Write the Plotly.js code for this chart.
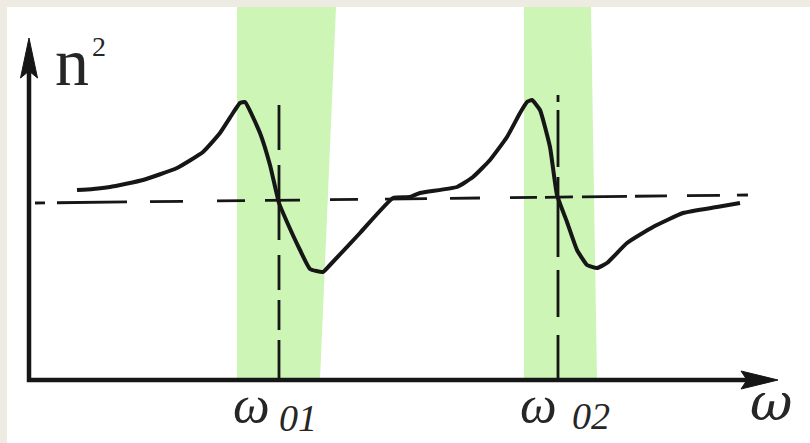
<!DOCTYPE html>
<html>
<head>
<meta charset="utf-8">
<script src="https://cdn.plot.ly/plotly-3.0.1.min.js"></script>
<style>html,body{margin:0;padding:0;background:#eeece2;}#chart{width:810px;height:443px;}</style>
</head>
<body>
<div id="chart"></div>
<script>
// Dispersion curve n^2(ω) (arbitrary units)
const omega = [0.48,0.64,0.81,1.14,1.48,1.74,1.91,2.04,2.11,2.16,2.31,2.41,2.50,2.58,2.71,2.81,2.94,3.01,3.31,3.64,3.81,3.91,4.28,4.44,4.61,4.78,4.91,4.98,5.03,5.11,5.21,5.28,5.38,5.48,5.58,5.68,5.78,5.98,6.24,6.54,6.88,7.11];
const n2 = [1.90,1.91,1.93,2.00,2.12,2.28,2.47,2.67,2.77,2.78,2.47,2.15,1.77,1.58,1.30,1.11,1.08,1.15,1.47,1.82,1.83,1.87,1.93,2.03,2.20,2.43,2.67,2.78,2.80,2.70,2.33,1.85,1.58,1.30,1.15,1.12,1.17,1.37,1.53,1.67,1.73,1.77];

// resonance frequencies
const resonances = [2.50, 5.29];
const resonanceTop = [2.75, 2.85];
// absorption bands: [left, right at top, right at bottom]
const band1 = {left: 2.08, rightTop: 3.07, rightBottom: 2.91};
const band2 = {left: 4.95, rightTop: 5.62, rightBottom: 5.68};
// reference level n^2 (dashed) start/end
const refX = [0.06, 7.19];
const refY = [1.77, 1.85];
// axes extent
const xAxisEnd = 7.49;
const yAxisEnd = 3.42;
const xRange = [-0.22, 7.81];
const yRange = [-0.63, 3.73];

const ink = '#161616';
const green = '#ccf5b6';

function bandTrace(b) {
  return {x: [b.left, b.rightTop, b.rightBottom, b.left, b.left],
          y: [yRange[1], yRange[1], 0, 0, yRange[1]],
          mode: 'lines', fill: 'toself', fillcolor: green,
          line: {width: 0, color: green}, hoverinfo: 'skip'};
}

const traces = [
  bandTrace(band1),
  bandTrace(band2),
  // horizontal dashed reference
  {x: refX, y: refY, mode: 'lines',
   line: {color: ink, width: 2.8, dash: '10px,12px,70px,23px,33px,34px,28px,20px,35px,30px,28px,27px,42px,23px,30px,30px,27px,8px,28px,9px,45px,8px,32px,20px,33px,17px,11px,100px'}},
  // vertical dashed lines
  {x: [resonances[0], resonances[0]], y: [resonanceTop[0], 0], mode: 'lines',
   line: {color: ink, width: 2.8, dash: '45px,15px,75px,15px,35px,10px,30px,10px,38px,10px'}},
  {x: [resonances[1], resonances[1]], y: [resonanceTop[1], 0], mode: 'lines',
   line: {color: ink, width: 2.8, dash: '7px,8px,57px,10px,80px,13px,47px,18px,45px,10px'}},
  // curve
  {x: omega, y: n2, mode: 'lines',
   line: {color: ink, width: 4, shape: 'spline', smoothing: 0.4}},
  // axes
  {x: [0, 0, xAxisEnd - 0.1], y: [yAxisEnd - 0.15, 0, 0], mode: 'lines',
   line: {color: ink, width: 4.5}},
  // arrowheads
  {x: [0, -0.085, 0, 0.085, 0], y: [yAxisEnd, yAxisEnd - 0.40, yAxisEnd - 0.33, yAxisEnd - 0.40, yAxisEnd],
   mode: 'lines', fill: 'toself', fillcolor: ink, line: {color: ink, width: 1}},
  {x: [xAxisEnd, xAxisEnd - 0.37, xAxisEnd - 0.31, xAxisEnd - 0.37, xAxisEnd],
   y: [0, 0.09, 0, -0.09, 0],
   mode: 'lines', fill: 'toself', fillcolor: ink, line: {color: ink, width: 1}}
];

const serif = 'Liberation Serif, serif';
const textCol = '#262626';
function label(t, x, y, size, italic, fam, xanchor) {
  return {text: t, x: x, y: y, xref: 'x', yref: 'y', showarrow: false,
          xanchor: xanchor || 'center', yanchor: 'middle', borderpad: 0,
          font: {family: fam || serif, size: size, color: textCol, style: italic ? 'italic' : 'normal'}};
}

const layout = {
  width: 810, height: 443,
  margin: {l: 7, r: 0, t: 7, b: 0, pad: 0},
  paper_bgcolor: '#eeece2', plot_bgcolor: '#ffffff',
  showlegend: false,
  xaxis: {range: xRange, visible: false, fixedrange: true},
  yaxis: {range: yRange, visible: false, fixedrange: true},
  annotations: [
    label('n', 0.43, 3.18, 68, false),
    label('2', 0.62, 3.34, 28, false, serif, 'left'),
    label('ω', 2.22, -0.24, 52, true),
    label('01', 2.69, -0.38, 38, true),
    label('ω', 5.09, -0.24, 52, true),
    label('02', 5.62, -0.36, 38, true),
    label('ω', 7.42, -0.22, 52, true, 'DejaVu Serif, serif')
  ]
};

Plotly.newPlot('chart', traces, layout, {staticPlot: true, displayModeBar: false});
</script>
</body>
</html>
